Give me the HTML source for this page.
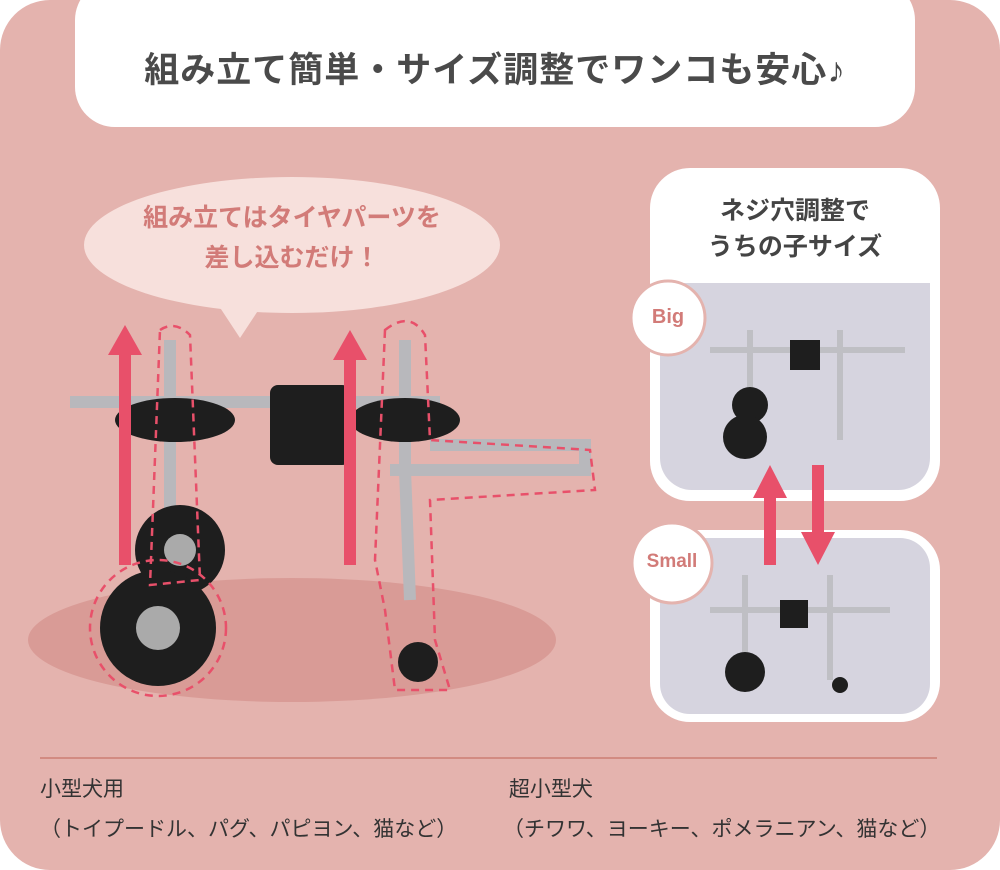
<!DOCTYPE html>
<html><head><meta charset="utf-8"><style>
body{margin:0;width:1000px;height:870px;background:#fff;overflow:hidden;font-family:"Liberation Sans","Noto Sans CJK JP",sans-serif}
.bg{position:absolute;left:0;top:0;width:1000px;height:870px;background:#e4b3ae;border-radius:50px}
.t{position:absolute;white-space:nowrap}
</style></head><body>
<div class="bg"></div>
<div style="position:absolute;left:75px;top:-20px;width:840px;height:147px;background:#fff;border-radius:40px"></div>
<div class="t" style="left:75px;width:840px;text-align:center;top:42px;font-size:35px;font-weight:bold;color:#4a4a4a;letter-spacing:1px">組み立て簡単・サイズ調整でワンコも安心♪</div>

<svg width="1000" height="870" style="position:absolute;left:0;top:0">
 <ellipse cx="292" cy="640" rx="264" ry="62" fill="#d99b96"/>
 <ellipse cx="292" cy="245" rx="208" ry="68" fill="#f7e0dc"/>
 <path d="M215 300 L240 338 L265 300 Z" fill="#f7e0dc"/>
 <g fill="none" stroke="#b8b8bc" stroke-width="12">
  <path d="M70 402 H440"/>
  <path d="M170 340 V580"/>
  <path d="M405 340 V470 L410 600"/>
  <path d="M390 470 H585 V445 H430"/>
 </g>
 <g fill="#1e1e1e">
  <rect x="270" y="385" width="80" height="80" rx="8"/>
  <ellipse cx="175" cy="420" rx="60" ry="22"/>
  <ellipse cx="405" cy="420" rx="55" ry="22"/>
  <circle cx="180" cy="550" r="45"/>
  <circle cx="158" cy="628" r="58"/>
  <circle cx="418" cy="662" r="20"/>
 </g>
 <circle cx="158" cy="628" r="22" fill="#aaa"/>
 <circle cx="180" cy="550" r="16" fill="#aaa"/>
 <g fill="none" stroke="#e8506a" stroke-width="2.5" stroke-dasharray="8 6">
  <circle cx="158" cy="628" r="68"/>
  <path d="M160 330 Q175 320 190 335 L200 580 L150 585 Z"/>
  <path d="M385 330 Q410 310 425 335 L430 440 L590 450 L595 490 L430 500 L435 640 L450 690 L395 690 L385 610 L375 560 Z"/>
 </g>
 <g fill="#e8506a" stroke="none">
  <rect x="119" y="350" width="12" height="215"/><path d="M108 355 L125 325 L142 355 Z"/>
  <rect x="344" y="355" width="12" height="210"/><path d="M333 360 L350 330 L367 360 Z"/>
 </g>
</svg>
<div class="t" style="left:84px;width:416px;text-align:center;top:198px;font-size:25px;font-weight:bold;color:#d27b78;line-height:40px">組み立てはタイヤパーツを<br>差し込むだけ！</div>

<div style="position:absolute;left:650px;top:168px;width:290px;height:333px;background:#fff;border-radius:40px"></div>
<div style="position:absolute;left:660px;top:283px;width:270px;height:207px;background:#d6d4df;border-radius:0 0 32px 32px"></div>
<div class="t" style="left:650px;width:290px;text-align:center;top:193px;font-size:25px;font-weight:bold;color:#444;line-height:36px">ネジ穴調整で<br>うちの子サイズ</div>
<div style="position:absolute;left:650px;top:530px;width:290px;height:192px;background:#fff;border-radius:40px"></div>
<div style="position:absolute;left:660px;top:538px;width:270px;height:176px;background:#d6d4df;border-radius:30px"></div>
<svg width="1000" height="870" style="position:absolute;left:0;top:0">
 <g fill="none" stroke="#bfbfc4" stroke-width="6"><path d="M710 350 H905"/><path d="M750 330 V420"/><path d="M840 330 V440"/>
 <path d="M710 610 H890"/><path d="M745 575 V660"/><path d="M830 575 V680"/></g>
 <g fill="#1e1e1e"><circle cx="750" cy="405" r="18"/><circle cx="745" cy="437" r="22"/><rect x="790" y="340" width="30" height="30"/>
 <circle cx="745" cy="672" r="20"/><rect x="780" y="600" width="28" height="28"/><circle cx="840" cy="685" r="8"/></g>
 <rect x="764" y="495" width="12" height="70" fill="#e8506a"/><path d="M753 498 L770 465 L787 498 Z" fill="#e8506a"/>
 <rect x="812" y="465" width="12" height="70" fill="#e8506a"/><path d="M801 532 L818 565 L835 532 Z" fill="#e8506a"/>
 <circle cx="668" cy="318" r="37" fill="#fff" stroke="#e4b3ae" stroke-width="3"/>
 <circle cx="672" cy="563" r="40" fill="#fff" stroke="#e4b3ae" stroke-width="3"/>
 <line x1="40" y1="758" x2="937" y2="758" stroke="#d28b82" stroke-width="2"/>
</svg>
<div class="t" style="left:631px;width:74px;text-align:center;top:306px;font-size:20px;font-weight:bold;color:#d27b78">Big</div>
<div class="t" style="left:632px;width:80px;text-align:center;top:551px;font-size:19px;font-weight:bold;color:#d27b78">Small</div>

<div class="t" style="left:40px;top:770px;font-size:21px;color:#333;line-height:40px">小型犬用<br>（トイプードル、パグ、パピヨン、猫など）</div>
<div class="t" style="left:503px;top:770px;font-size:21px;color:#333;line-height:40px">&nbsp;超小型犬<br>（チワワ、ヨーキー、ポメラニアン、猫など）</div>
</body></html>
